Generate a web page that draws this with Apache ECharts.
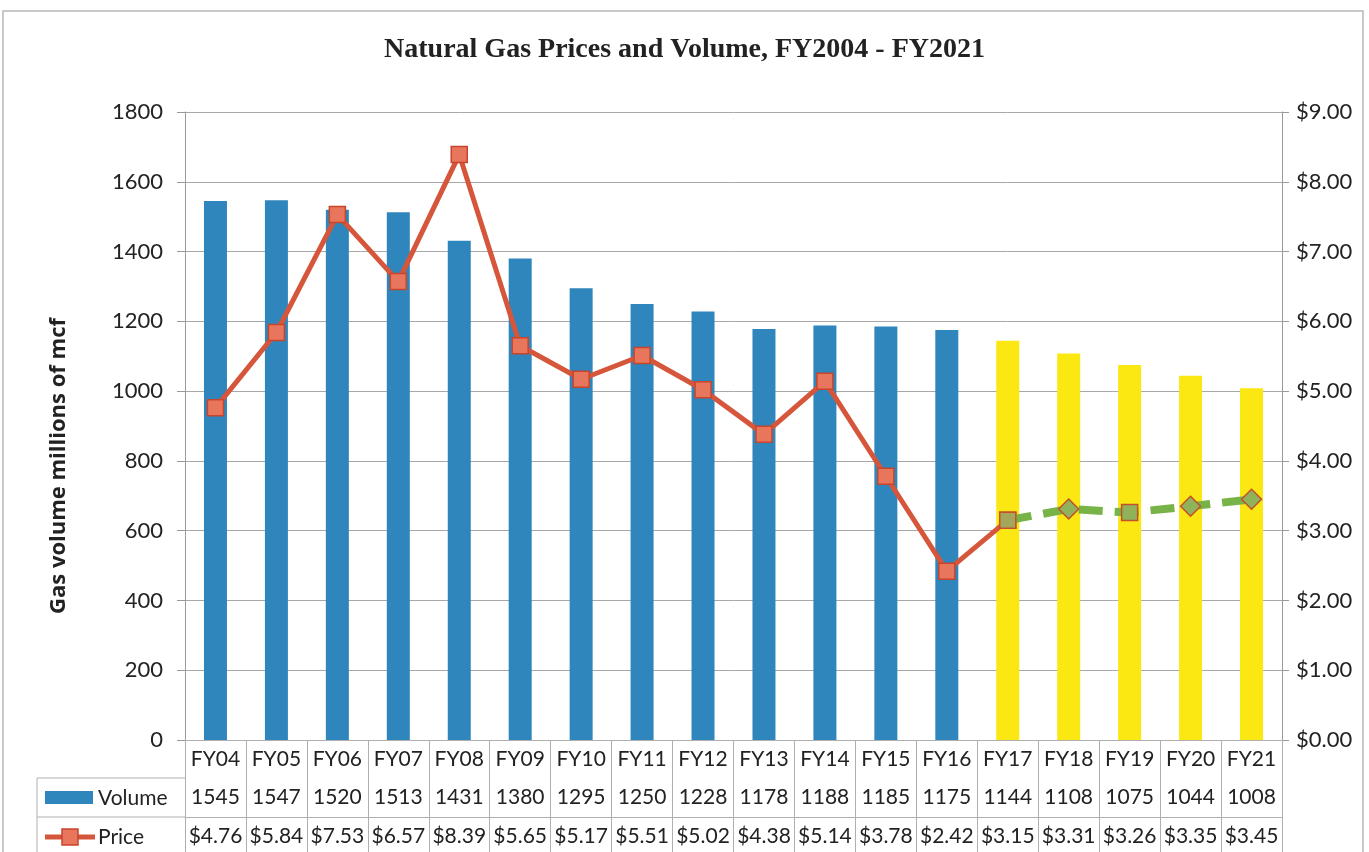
<!DOCTYPE html>
<html>
<head>
<meta charset="utf-8">
<title>Natural Gas Prices and Volume</title>
<script src="https://cdn.jsdelivr.net/npm/echarts@6/dist/echarts.min.js"></script>
<style>
  html, body { margin: 0; padding: 0; background: #fff; }
  #main { width: 1369px; height: 852px; }
</style>
</head>
<body>
<div id="main"></div>
<script type="text/javascript">
    // 数据
    var categories = ['FY04','FY05','FY06','FY07','FY08','FY09','FY10','FY11','FY12','FY13','FY14','FY15','FY16','FY17','FY18','FY19','FY20','FY21'];
    var volume = [1545,1547,1520,1513,1431,1380,1295,1250,1228,1178,1188,1185,1175,1144,1108,1075,1044,1008];
    var price = [4.76,5.84,7.53,6.57,8.39,5.65,5.17,5.51,5.02,4.38,5.14,3.78,2.42,3.15,3.31,3.26,3.35,3.45];
    var volumeTicks = [0,200,400,600,800,1000,1200,1400,1600,1800];
    var forecastFrom = 'FY17';

    var fi = categories.indexOf(forecastFrom);
    var font = 'Lato';
    var gridCol = '#9a9a9a';

    var myChart = echarts.init(document.getElementById('main'));

    var barData = volume.map(function (v, i) {
        return { value: v, itemStyle: { color: i >= fi ? '#fbe711' : '#2f86bd' } };
    });
    var actualData = price.map(function (v, i) { return i <= fi ? v : '-'; });
    var forecastData = price.map(function (v, i) {
        if (i < fi) return '-';
        return {
            value: v,
            symbol: i === fi || i === fi + 2 ? 'rect' : 'diamond',
            symbolSize: i === fi || i === fi + 2 ? 16 : 20,
            itemStyle: { color: i === fi ? '#a4a65c' : '#8fb25a', borderColor: '#c4502c', borderWidth: 1.5 }
        };
    });

    var tableLabel = { margin: 9, interval: 0, fontFamily: font, fontSize: 21, color: '#222' };

    var option = {
        backgroundColor: '#fff',
        animation: false,
        title: {
            text: 'Natural Gas Prices and Volume, FY2004 - FY2021',
            left: 'center',
            top: 31,
            textStyle: { fontFamily: 'Liberation Serif', fontWeight: 'bold', fontSize: 28, color: '#222' }
        },
        grid: { left: 185, right: 87, top: 112, bottom: 112 },
        xAxis: [{
            type: 'category',
            position: 'bottom',
            data: categories,
            axisLine: { lineStyle: { color: gridCol } },
            axisTick: { show: true, length: 112, lineStyle: { color: '#b0b0b0' } },
            axisLabel: tableLabel
        }, {
            type: 'category',
            position: 'bottom',
            data: volume.map(String),
            offset: 38,
            axisLine: { lineStyle: { color: '#b0b0b0' } },
            axisTick: { show: false },
            axisLabel: tableLabel
        }, {
            type: 'category',
            position: 'bottom',
            data: price.map(function (v) { return '$' + v.toFixed(2); }),
            offset: 77,
            axisLine: { lineStyle: { color: '#b0b0b0' } },
            axisTick: { show: false },
            axisLabel: tableLabel
        }],
        yAxis: [{
            type: 'value',
            min: volumeTicks[0],
            max: volumeTicks[volumeTicks.length - 1],
            interval: 200,
            axisLine: { show: true, lineStyle: { color: gridCol } },
            axisTick: { show: true, length: 8, lineStyle: { color: gridCol } },
            axisLabel: {
                margin: 22, fontFamily: font, fontSize: 22, color: '#222',
                formatter: function (v) { return String(v); }
            },
            splitLine: { lineStyle: { color: '#a8a8a8' } }
        }, {
            type: 'value',
            min: 0,
            max: 9,
            interval: 1,
            axisLine: { show: true, lineStyle: { color: gridCol } },
            axisTick: { show: true, length: 7, lineStyle: { color: gridCol } },
            axisLabel: {
                margin: 14, fontFamily: font, fontSize: 22, color: '#222',
                formatter: function (v) { return '$' + v.toFixed(2); }
            },
            splitLine: { show: false }
        }],
        series: [{
            name: 'Volume',
            type: 'bar',
            data: barData,
            barWidth: 23,
            z: 2
        }, {
            name: 'Price',
            type: 'line',
            yAxisIndex: 1,
            data: actualData,
            symbol: 'rect',
            symbolSize: 16,
            lineStyle: { color: '#d5563b', width: 5 },
            itemStyle: { color: '#e8765c', borderColor: '#c8452c', borderWidth: 1.5 },
            z: 3
        }, {
            name: 'Forecast',
            type: 'line',
            yAxisIndex: 1,
            data: forecastData,
            lineStyle: { color: '#78b347', width: 8, type: [24, 12] },
            z: 4
        }]
    };
    myChart.setOption(option);

    // 表格左侧的图例列、边框和纵轴标题
    var x0 = myChart.convertToPixel({ xAxisIndex: 0 }, 0);
    var band = myChart.convertToPixel({ xAxisIndex: 0 }, 1) - x0;
    var tableLeft = x0 - band / 2;
    var yZero = myChart.convertToPixel({ yAxisIndex: 0 }, 0);
    var row1 = yZero + 38, row2 = yZero + 77;
    var lineCol = '#b0b0b0';
    myChart.setOption({
        graphic: [
            { type: 'rect', shape: { x: 3, y: 11, width: 1360, height: 900 }, style: { fill: null, stroke: '#b8b8b8', lineWidth: 1.5 }, silent: true },
            { type: 'text', x: 59, y: 466, rotation: Math.PI / 2,
              style: { text: 'Gas volume millions of mcf', font: 'bold 22px "Open Sans"', fill: '#222', align: 'center', verticalAlign: 'middle' } },
            { type: 'line', shape: { x1: 37, y1: row1, x2: tableLeft, y2: row1 }, style: { stroke: lineCol } },
            { type: 'line', shape: { x1: 37, y1: row2, x2: tableLeft, y2: row2 }, style: { stroke: lineCol } },
            { type: 'line', shape: { x1: 37, y1: row1, x2: 37, y2: 852 }, style: { stroke: lineCol } },
            { type: 'rect', shape: { x: 45, y: row1 + 13, width: 48, height: 13 }, style: { fill: '#2f86bd' } },
            { type: 'text', x: 98, y: row1 + 20, style: { text: 'Volume', font: '21px Lato', fill: '#222', verticalAlign: 'middle' } },
            { type: 'line', shape: { x1: 45, y1: row2 + 20, x2: 95, y2: row2 + 20 }, style: { stroke: '#d5563b', lineWidth: 5 } },
            { type: 'rect', shape: { x: 62, y: row2 + 12, width: 16, height: 16 }, style: { fill: '#e8765c', stroke: '#c8452c', lineWidth: 1.5 } },
            { type: 'text', x: 98, y: row2 + 20, style: { text: 'Price', font: '21px Lato', fill: '#222', verticalAlign: 'middle' } }
        ]
    });
</script>
</body>
</html>
